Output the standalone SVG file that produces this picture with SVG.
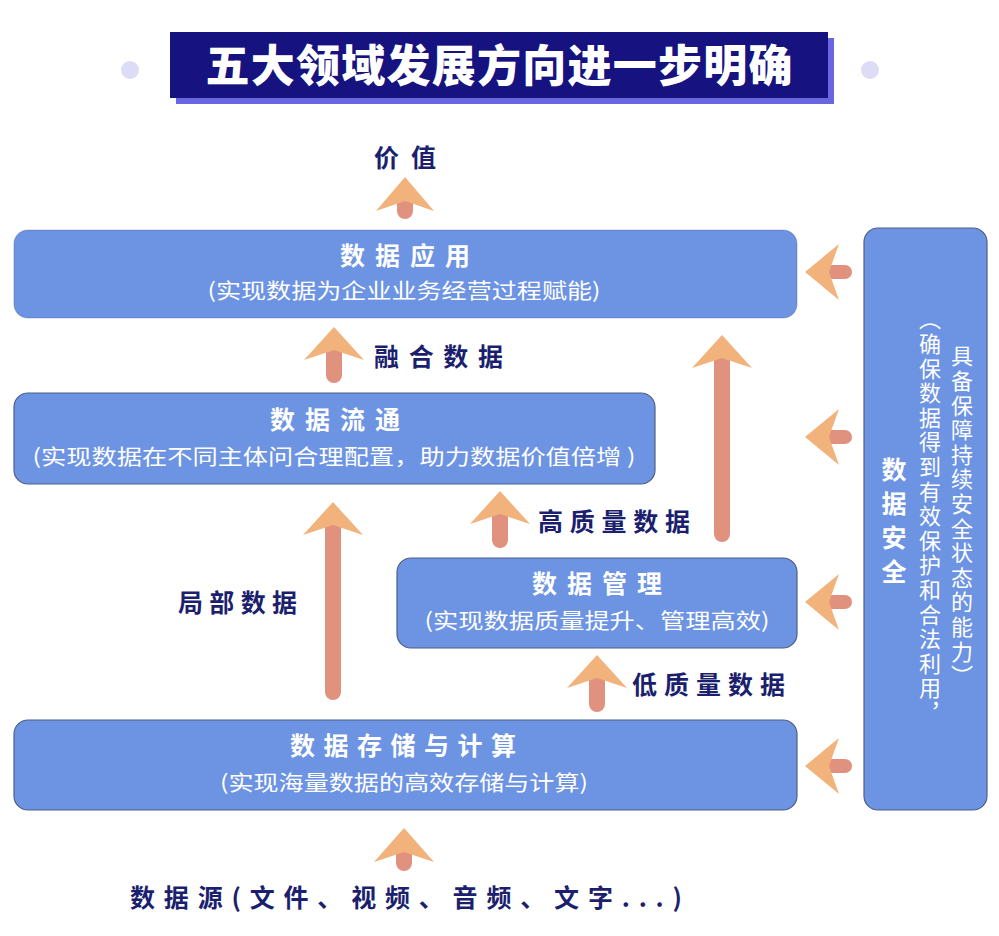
<svg xmlns="http://www.w3.org/2000/svg" width="999" height="936" viewBox="0 0 999 936">
<style>
.box{fill:#6d93e3;stroke:#4f5f86;stroke-width:1.2}
.bt{font-family:"Noto Sans CJK SC","Noto Sans",sans-serif;font-weight:bold;fill:#ffffff;font-size:25px;text-anchor:middle}
.bs{font-family:"Noto Sans CJK SC","Noto Sans",sans-serif;fill:#ffffff;font-size:21px;text-anchor:middle}
.lbl{font-family:"Noto Sans CJK SC","Noto Sans",sans-serif;font-weight:bold;fill:#1b1f6e;font-size:25px}
.head{fill:#f2b27c}
.shaft{stroke:#e0927f;stroke-width:16;stroke-linecap:round;fill:none}
.shaft2{stroke:#e0927f;stroke-width:14;stroke-linecap:round;fill:none}
.vt{font-family:"Noto Sans CJK SC","Noto Sans",sans-serif;fill:#ffffff;writing-mode:vertical-rl}
</style>
<rect width="999" height="936" fill="#ffffff"/>
<g id="title">
<circle cx="130" cy="70" r="9" fill="#dcdcf6"/>
<circle cx="870" cy="70" r="9" fill="#dcdcf6"/>
<rect x="176" y="38" width="658" height="66" fill="#6a66e0"/>
<rect x="170" y="32" width="658" height="66" fill="#16127f"/>
<text x="499" y="82" font-family="'Noto Sans CJK SC',sans-serif" font-weight="900" font-size="44" fill="#ffffff" text-anchor="middle" textLength="587" lengthAdjust="spacing">五大领域发展方向进一步明确</text>
</g>
<g id="connectors">
<g id="arrow-value"><line class="shaft" x1="405" y1="200" x2="405" y2="211"/><polygon class="head" points="405,177 434,211 405,201 376,211"/></g>
<g id="arrow-fuse"><line class="shaft" x1="334" y1="350" x2="334" y2="375"/><polygon class="head" points="334,327 364,360 334,350 304,360"/></g>
<g id="arrow-local"><line class="shaft" x1="333" y1="525" x2="333" y2="692"/><polygon class="head" points="333,502 363,535 333,525 303,535"/></g>
<g id="arrow-hq"><line class="shaft" x1="500" y1="515" x2="500" y2="540"/><polygon class="head" points="500,491 530,524 500,514 470,524"/></g>
<g id="arrow-mgmt"><line class="shaft" x1="722" y1="358" x2="722" y2="534"/><polygon class="head" points="722,335 752,368 722,358 692,368"/></g>
<g id="arrow-lq"><line class="shaft" x1="597" y1="678" x2="597" y2="704"/><polygon class="head" points="597,655 627,688 597,678 567,688"/></g>
<g id="arrow-src"><line class="shaft" x1="404" y1="851" x2="404" y2="863"/><polygon class="head" points="404,828 434,862 404,852 374,862"/></g>
<g id="arrow-sec1"><line class="shaft2" x1="830" y1="272" x2="845" y2="272"/><polygon class="head" points="805,272 839,244 829,272 839,300"/></g>
<g id="arrow-sec2"><line class="shaft2" x1="830" y1="437" x2="845" y2="437"/><polygon class="head" points="805,437 839,409 829,437 839,465"/></g>
<g id="arrow-sec3"><line class="shaft2" x1="830" y1="602" x2="845" y2="602"/><polygon class="head" points="805,602 839,574 829,602 839,630"/></g>
<g id="arrow-sec4"><line class="shaft2" x1="830" y1="766" x2="845" y2="766"/><polygon class="head" points="805,766 839,738 829,766 839,794"/></g>
</g>
<g id="node-app">
<rect class="box" x="14" y="230" width="783" height="88" rx="14" stroke-opacity="0.35"/>
<text class="bt" x="405" y="265" textLength="130" lengthAdjust="spacing">数据应用</text>
<text class="bs" x="404" y="298" textLength="393" lengthAdjust="spacingAndGlyphs">(实现数据为企业业务经营过程赋能)</text>
</g>
<g id="node-flow">
<rect class="box" x="14" y="393" width="641" height="91" rx="14"/>
<text class="bt" x="335" y="429" textLength="130" lengthAdjust="spacing">数据流通</text>
<text class="bs" x="334" y="464" textLength="603" lengthAdjust="spacingAndGlyphs">(实现数据在不同主体问合理配置，助力数据价值倍增 )</text>
</g>
<g id="node-mgmt">
<rect class="box" x="397" y="558" width="400" height="90" rx="14"/>
<text class="bt" x="597" y="593" textLength="130" lengthAdjust="spacing">数据管理</text>
<text class="bs" x="597" y="628" textLength="345" lengthAdjust="spacingAndGlyphs">(实现数据质量提升、管理高效)</text>
</g>
<g id="node-store">
<rect class="box" x="14" y="720" width="783" height="90" rx="14"/>
<text class="bt" x="403" y="755" textLength="226" lengthAdjust="spacing">数据存储与计算</text>
<text class="bs" x="404" y="790" textLength="368" lengthAdjust="spacingAndGlyphs">(实现海量数据的高效存储与计算)</text>
</g>
<g id="node-security">
<rect class="box" x="864" y="228" width="123" height="582" rx="14"/>
<text class="vt" x="894" y="457" font-size="25" font-weight="bold" letter-spacing="9">数据安全</text>
<text class="vt" x="962" y="345" font-size="22" letter-spacing="2.6">具备保障持续安全状态的能力）</text>
<text class="vt" x="930" y="308" font-size="22" letter-spacing="2.6">（确保数据得到有效保护和合法利用，</text>
</g>
<g id="labels">
<text class="lbl" x="405" y="167" text-anchor="middle" textLength="62" lengthAdjust="spacing">价值</text>
<text class="lbl" x="374" y="366" textLength="129" lengthAdjust="spacing">融合数据</text>
<text class="lbl" x="178" y="612" textLength="119" lengthAdjust="spacing">局部数据</text>
<text class="lbl" x="538" y="531" textLength="152" lengthAdjust="spacing">高质量数据</text>
<text class="lbl" x="632" y="694" textLength="153" lengthAdjust="spacing">低质量数据</text>
<text class="lbl" x="130" y="907" textLength="552" lengthAdjust="spacing">数据源(文件、视频、音频、文字...)</text>
</g>
</svg>
